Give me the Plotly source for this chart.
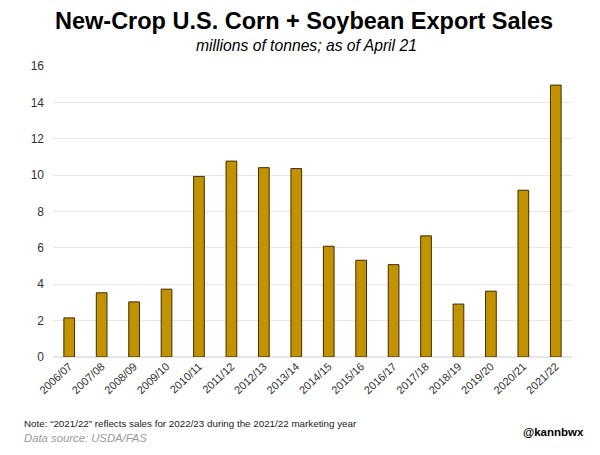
import plotly.graph_objects as go

years = ["2006/07", "2007/08", "2008/09", "2009/10", "2010/11", "2011/12", "2012/13", "2013/14",
         "2014/15", "2015/16", "2016/17", "2017/18", "2018/19", "2019/20", "2020/21", "2021/22"]
sales = [2.15, 3.53, 3.03, 3.73, 9.93, 10.77, 10.41, 10.36,
         6.09, 5.32, 5.08, 6.66, 2.91, 3.62, 9.17, 14.95]

W, H = 600, 455
OFF = 8  # page body margin offset
L, R, T, B = 53 - OFF, 600 - 572 + OFF, 66 - OFF, 455 - 357 + OFF
pw = W - L - R
ph = H - T - B


def px(x):
    return (x - OFF - L) / pw


def py(y):
    return (H - B - (y - OFF)) / ph


fig = go.Figure()
fig.add_trace(go.Bar(
    x=years, y=sales,
    marker=dict(color="#C39200", line=dict(color="#3D2E00", width=1)),
))

fig.update_layout(
    width=W, height=H,
    paper_bgcolor="white", plot_bgcolor="white",
    margin=dict(l=L, r=R, t=T, b=B),
    bargap=0.67,
    showlegend=False,
    font=dict(family="Liberation Sans, Arial, sans-serif", color="#222"),
    xaxis=dict(
        tickangle=-43, tickfont=dict(size=11, color="#333"),
        showgrid=False, showline=False, ticks="",
    ),
    yaxis=dict(
        range=[0, 16], dtick=2, tickfont=dict(size=12, color="#333"),
        gridcolor="#e6e6e6", gridwidth=1, zeroline=True, zerolinecolor="#e6e6e6",
        ticks="", ticklabelstandoff=8,
    ),
    annotations=[
        dict(text="<b>New-Crop U.S. Corn + Soybean Export Sales</b>", x=px(304), y=py(21),
             xref="paper", yref="paper", showarrow=False, xanchor="center", yanchor="middle",
             font=dict(size=23.5, color="black")),
        dict(text="<i>millions of tonnes; as of April 21</i>", x=px(306), y=py(45),
             xref="paper", yref="paper", showarrow=False, xanchor="center", yanchor="middle",
             font=dict(size=15.7, color="black")),
        dict(text="Note: \u201c2021/22\u201d reflects sales for 2022/23 during the 2021/22 marketing year",
             x=px(22), y=py(423), xref="paper", yref="paper", showarrow=False,
             xanchor="left", yanchor="middle", font=dict(size=9.8, color="#222")),
        dict(text="<i>Data source: USDA/FAS</i>", x=px(22), y=py(438), xref="paper", yref="paper",
             showarrow=False, xanchor="left", yanchor="middle", font=dict(size=11.3, color="#999")),
        dict(text="<b>@kannbwx</b>", x=px(586), y=py(432), xref="paper", yref="paper",
             showarrow=False, xanchor="right", yanchor="middle", font=dict(size=11.5, color="black")),
    ],
)

fig.write_html("out.html")
